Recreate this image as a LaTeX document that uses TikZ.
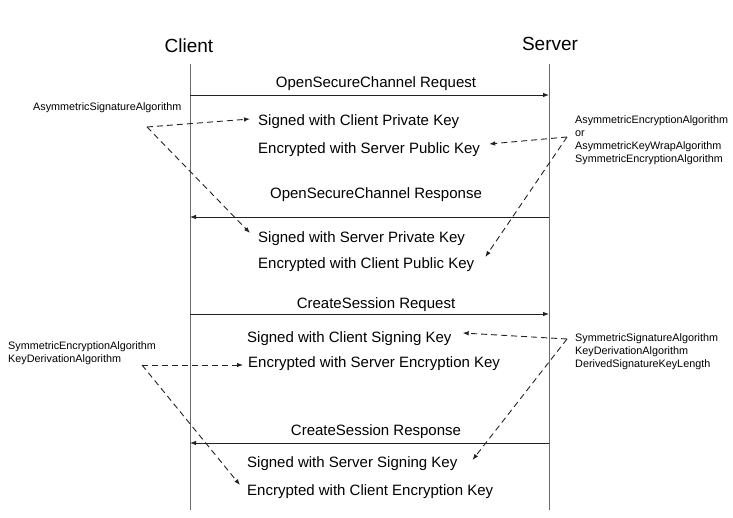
\documentclass[tikz,border=0pt]{standalone}
\usepackage{fontspec}
\setmainfont{Liberation Sans}
\usetikzlibrary{arrows.meta,positioning,calc}
\definecolor{rule}{HTML}{6A6A6A}
\definecolor{ink}{HTML}{222222}

\begin{document}
\begin{tikzpicture}[x=1pt, y=-1pt,
    role/.style={font=\fontsize{19}{22}\selectfont, inner sep=0pt},
    lbl/.style={font=\fontsize{15}{18}\selectfont, inner sep=0pt},
    keytxt/.style={font=\fontsize{15}{18}\selectfont, inner sep=0pt, anchor=west},
    note/.style={font=\fontsize{10.8}{13}\selectfont, inner sep=0pt, align=left, anchor=north west},
    life/.style={draw=rule, line width=0.8pt},
    msg/.style={draw=ink, line width=0.8pt, -{Latex[length=6pt,width=4.5pt]}},
    hint/.style={draw=ink, line width=0.9pt, dash pattern=on 6pt off 4pt, -{Latex[length=6pt,width=4.5pt]}}]
  \useasboundingbox (0,0) rectangle (733,518);

  % parties and lifelines
  \node[role] (client) at (189,46) {Client};
  \node[role] (server) at (550,44) {Server};
  \coordinate (cTop) at (190,64);  \coordinate (cEnd) at (190,510);
  \coordinate (sTop) at (549,64);  \coordinate (sEnd) at (549,510);
  \draw[life] (cTop) -- (cEnd);
  \draw[life] (sTop) -- (sEnd);

  % OpenSecureChannel
  \coordinate (c1) at (190,95);  \coordinate (s1) at (549,95);
  \node[lbl] (oscReq) at (376,84) {OpenSecureChannel Request};
  \draw[msg] (c1) -- (s1);
  \node[keytxt] (signCPriv) at (258,122) {Signed with Client Private Key};
  \node[keytxt] (encSPub) at (258,150) {Encrypted with Server Public Key};

  \coordinate (c2) at (190,217);  \coordinate (s2) at (549,217);
  \node[lbl] (oscRes) at (376,195) {OpenSecureChannel Response};
  \draw[msg] (s2) -- (c2);
  \node[keytxt] (signSPriv) at (258,239) {Signed with Server Private Key};
  \node[keytxt] (encCPub) at (258,265) {Encrypted with Client Public Key};

  % CreateSession
  \coordinate (c3) at (190,314);  \coordinate (s3) at (549,314);
  \node[lbl] (csReq) at (376,305) {CreateSession Request};
  \draw[msg] (c3) -- (s3);
  \node[keytxt] (signCSig) at (247,339) {Signed with Client Signing Key};
  \node[keytxt] (encSEnc) at (248,364) {Encrypted with Server Encryption Key};

  \coordinate (c4) at (190,443);  \coordinate (s4) at (549,443);
  \node[lbl] (csRes) at (376,432) {CreateSession Response};
  \draw[msg] (s4) -- (c4);
  \node[keytxt] (signSSig) at (247,464) {Signed with Server Signing Key};
  \node[keytxt] (encCEnc) at (247,492) {Encrypted with Client Encryption Key};

  % algorithm notes
  \node[note, anchor=west] (asymSig) at (33,108) {AsymmetricSignatureAlgorithm};
  \node[note] (asymEnc) at (575,115) {AsymmetricEncryptionAlgorithm\\or\\AsymmetricKeyWrapAlgorithm\\SymmetricEncryptionAlgorithm};
  \node[note] (symEnc) at (8,341) {SymmetricEncryptionAlgorithm\\KeyDerivationAlgorithm};
  \node[note] (symSig) at (575,333) {SymmetricSignatureAlgorithm\\KeyDerivationAlgorithm\\DerivedSignatureKeyLength};

  \coordinate (asymSigV) at (147,127);
  \coordinate (asymEncV) at (567,137);
  \coordinate (symEncV) at (142,365);
  \coordinate (symSigV) at (567,339);

  \draw[hint] (asymSigV) -- ([xshift=-8pt,yshift=3pt]signCPriv.west);
  \draw[hint] (asymSigV) -- ([xshift=-8pt,yshift=6pt]signSPriv.west);
  \draw[hint] (asymEncV) -- ([xshift=9pt,yshift=6pt]encSPub.east);
  \draw[hint] (asymEncV) -- ([xshift=11pt,yshift=8pt]encCPub.east);
  \draw[hint] (symEncV) -- ([xshift=-5pt,yshift=-1pt]encSEnc.west);
  \draw[hint] (symEncV) -- ([xshift=-7pt,yshift=7pt]encCEnc.west);
  \draw[hint] (symSigV) -- ([xshift=11pt,yshift=6pt]signCSig.east);
  \draw[hint] (symSigV) -- ([xshift=15pt,yshift=4pt]signSSig.east);
\end{tikzpicture}
\end{document}
